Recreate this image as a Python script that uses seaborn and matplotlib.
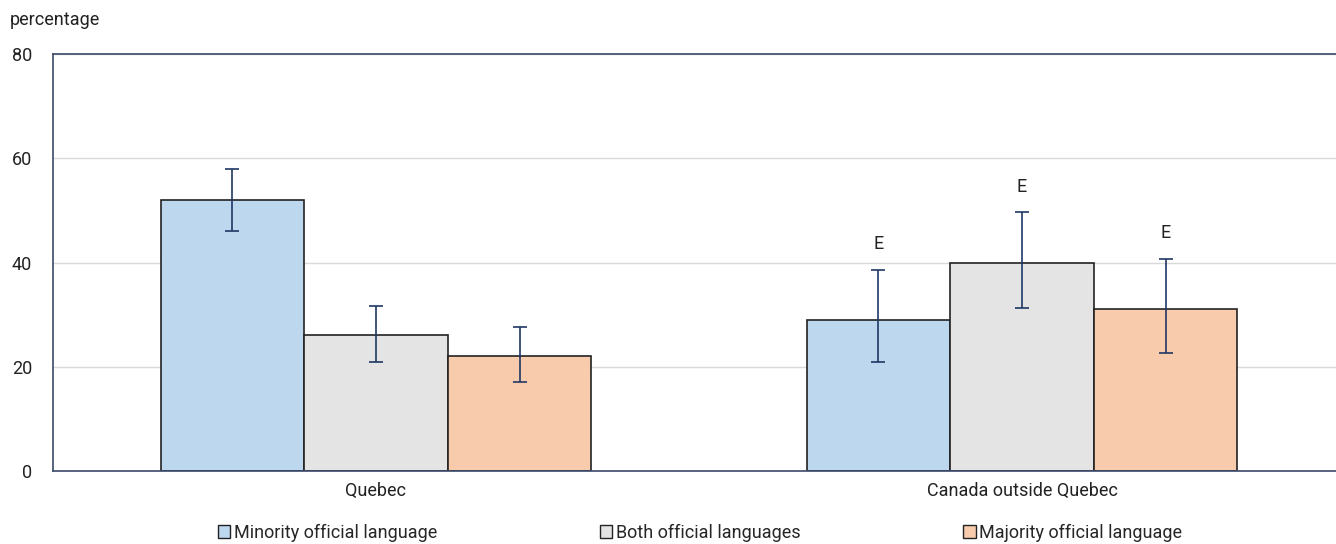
import matplotlib
matplotlib.use("Agg")
import matplotlib.pyplot as plt
import seaborn as sns
import pandas as pd
from matplotlib.patches import Patch

regions = ["Quebec", "Canada outside Quebec"]
groups = ["Minority official language", "Both official languages", "Majority official language"]
values = {
    "Minority official language": [52, 29],
    "Both official languages": [26, 40],
    "Majority official language": [22, 31],
}
err_low = {
    "Minority official language": [46.0, 20.9],
    "Both official languages": [21.0, 31.3],
    "Majority official language": [17.1, 22.7],
}
err_high = {
    "Minority official language": [57.9, 38.6],
    "Both official languages": [31.7, 49.6],
    "Majority official language": [27.7, 40.7],
}
flags = {
    "Minority official language": ["", "E"],
    "Both official languages": ["", "E"],
    "Majority official language": ["", "E"],
}
colors = ["#BDD7EE", "#E4E4E4", "#F8CBAD"]
yticks = [0, 20, 40, 60, 80]

sns.set_theme(style="white")
plt.rcParams['font.family'] = ['Roboto', 'DejaVu Sans']

rows = []
for g in groups:
    for i, r in enumerate(regions):
        rows.append({"region": r, "group": g, "value": values[g][i]})
df = pd.DataFrame(rows)

fig = plt.figure(figsize=(13.36, 5.44), dpi=100)
ax = fig.add_axes([53/1336, 1 - 471/544, 1292/1336, (471 - 54)/544])

sns.barplot(data=df, x="region", y="value", hue="group", order=regions,
            hue_order=groups, palette=colors, width=0.667, errorbar=None,
            edgecolor="#222222", linewidth=1.2, saturation=1, ax=ax, legend=False)

for gi, g in enumerate(groups):
    container = ax.containers[gi]
    for ri, bar in enumerate(container):
        xc = bar.get_x() + bar.get_width() / 2
        v = values[g][ri]
        lo, hi = err_low[g][ri], err_high[g][ri]
        ax.errorbar([xc], [v], yerr=[[v - lo], [hi - v]], fmt="none",
                    ecolor="#1F3864", elinewidth=1.2, capsize=5, capthick=1.2, zorder=5)
        if flags[g][ri]:
            ax.annotate(flags[g][ri], (xc, hi), xytext=(0, 12), textcoords="offset points",
                        ha="center", va="bottom", fontsize=13, color="#222222")

ax.set_xlim(-0.5, 1.5)
ax.set_ylim(0, 80)
ax.set_yticks(yticks)
ax.set_yticklabels([str(t) for t in yticks], fontsize=13, color="#222222")
ax.tick_params(axis="y", length=0, pad=15)
ax.tick_params(axis="x", length=0, pad=8, labelsize=13, labelcolor="#222222")
ax.yaxis.grid(True, color="#D9D9D9", linewidth=1)
ax.set_axisbelow(True)
ax.set_xlabel("")
ax.set_ylabel("")
for side in ["left", "top", "bottom"]:
    ax.spines[side].set_color("#3B4A6B")
    ax.spines[side].set_linewidth(1.2)
ax.spines["bottom"].set_bounds(-0.5, 1.5)
ax.spines["bottom"].set_zorder(6)
ax.spines["right"].set_visible(False)

fig.text(10/1336, 1 - 20/544, "percentage", fontsize=13, color="#222222", va="center", ha="left")

handles = [Patch(facecolor=c, edgecolor="#222222", linewidth=1) for c in colors]
fig.legend(handles, groups, loc="center", bbox_to_anchor=(0.524, 1 - 533/544), ncol=3,
           frameon=False, fontsize=13, handlelength=0.7, handleheight=0.7,
           handletextpad=0.2, columnspacing=9, borderaxespad=0)

fig.savefig("out.png", dpi=100)
